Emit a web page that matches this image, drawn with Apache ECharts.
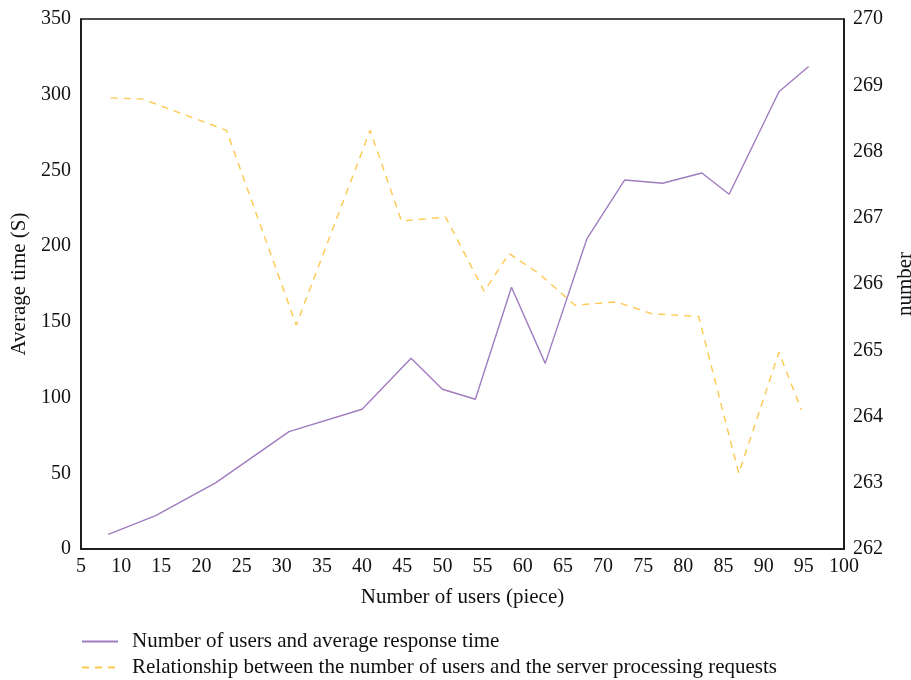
<!DOCTYPE html>
<html>
<head>
<meta charset="utf-8">
<script src="https://cdn.jsdelivr.net/npm/echarts@6/dist/echarts.min.js"></script>
<style>html,body{margin:0;padding:0;background:#fff;overflow:hidden;}#c{width:911px;height:680px;}</style>
</head>
<body>
<div id="c"></div>
<script>
var seriesNames = ['Number of users and average response time', 'Relationship between the number of users and the server processing requests'];
var usersA = [8.4, 14.3, 21.8, 30.9, 40.0, 46.1, 50.0, 54.1, 58.6, 62.8, 68.0, 72.7, 77.4, 82.3, 85.7, 91.9, 95.6];
var timeA  = [9.7, 22, 43.8, 77.5, 92.3, 126, 105.5, 98.9, 172.8, 122.6, 205, 243.7, 241.5, 248.3, 234.3, 302, 318.6];
var usersB = [8.7, 12.7, 23.1, 31.8, 41.0, 44.9, 50.4, 55.2, 58.3, 62.0, 66.5, 71.7, 76.1, 81.9, 86.9, 91.9, 94.7];
var reqB   = [268.81, 268.79, 268.32, 265.38, 268.32, 266.95, 267.01, 265.89, 266.46, 266.16, 265.68, 265.73, 265.55, 265.51, 263.14, 264.97, 264.10];

function pairs(xs, ys){ return xs.map(function(x,i){ return [x, ys[i]]; }); }

var font = 'Liberation Serif';
var chart = echarts.init(document.getElementById('c'));
chart.setOption({
  animation: false,
  backgroundColor: '#fff',
  textStyle: {fontFamily: font, color: '#111'},
  grid: {left: 81, right: 67, top: 19, bottom: 131, show: true, borderColor: '#111', borderWidth: 1.5, containLabel: false, outerBoundsMode: 'none'},
  legend: {
    orient: 'vertical', left: 81, top: 631, height: 70, padding: 0,
    itemWidth: 36, itemHeight: 14, itemGap: 5,
    itemStyle: {opacity: 0},
    textStyle: {fontFamily: font, fontSize: 21, lineHeight: 21, color: '#111', padding: [0,0,0,9]},
    data: seriesNames
  },
  xAxis: {
    type: 'value', min: 5, max: 100, interval: 5,
    name: 'Number of users (piece)', nameLocation: 'middle', nameGap: 38,
    nameTextStyle: {fontFamily: font, fontSize: 21, color: '#111'},
    axisLine: {lineStyle: {color: '#111', width: 1.5}}, axisTick: {show: false},
    axisLabel: {fontFamily: font, fontSize: 20, color: '#111', margin: 8},
    splitLine: {show: false}
  },
  yAxis: [{
    type: 'value', min: 0, max: 350, interval: 50, position: 'left',
    name: 'Average time (S)', nameLocation: 'middle', nameGap: 50,
    nameTextStyle: {fontFamily: font, fontSize: 21, color: '#111'},
    axisLine: {show: true, lineStyle: {color: '#111', width: 1.5}}, axisTick: {show: false},
    axisLabel: {fontFamily: font, fontSize: 20, color: '#111', margin: 10},
    splitLine: {show: false}
  }, {
    type: 'value', min: 262, max: 270, interval: 1, position: 'right',
    name: 'number', nameLocation: 'middle', nameGap: 51,
    nameTextStyle: {fontFamily: font, fontSize: 21, color: '#111'},
    axisLine: {show: true, lineStyle: {color: '#111', width: 1.5}}, axisTick: {show: false},
    axisLabel: {fontFamily: font, fontSize: 20, color: '#111', margin: 9},
    splitLine: {show: false}
  }],
  series: [{
    name: seriesNames[0], type: 'line', yAxisIndex: 0, symbol: 'none',
    data: pairs(usersA, timeA),
    lineStyle: {color: '#a07cc0', width: 1.4}, itemStyle: {color: '#a07cc0'}
  }, {
    name: seriesNames[1], type: 'line', yAxisIndex: 1, symbol: 'none',
    data: pairs(usersB, reqB),
    lineStyle: {color: '#fcc94e', width: 1.4, type: [7, 6]}, itemStyle: {color: '#fcc94e'}
  }]
});
</script>
</body>
</html>
